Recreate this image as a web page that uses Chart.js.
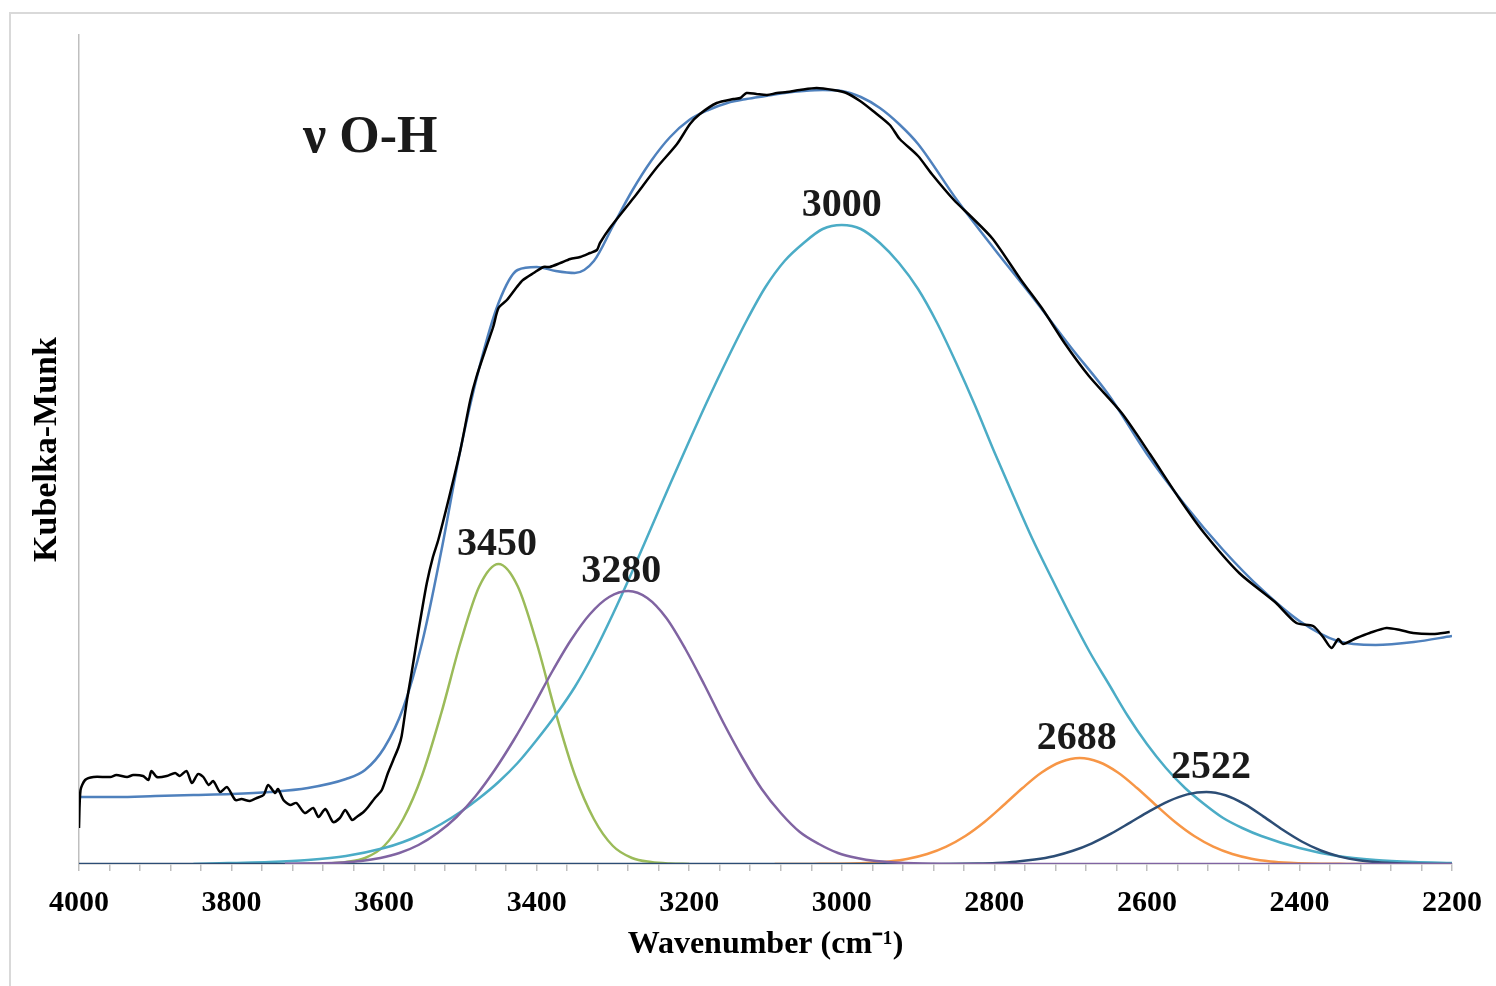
<!DOCTYPE html>
<html>
<head>
<meta charset="utf-8">
<script src="https://cdn.jsdelivr.net/npm/chart.js@4.4.1/dist/chart.umd.min.js"></script>
<style>
  body { margin: 0; background: #fff; overflow: hidden; }
  #frame { position: absolute; left: 9px; top: 12px; width: 1600px; height: 1100px;
           border-left: 2px solid #d9d9d9; border-top: 2px solid #d9d9d9; }
  #chart { position: absolute; left: 0; top: 0; }
</style>
</head>
<body>
<div id="frame"></div>
<canvas id="chart" width="1496" height="986"></canvas>
<script>
// wavenumber (cm-1) / Kubelka-Munk values

// measured spectrum (black)
const blackSpectrum = [
  [4000,0.036],[3998,0.074],[3992,0.084],[3981,0.087],[3959,0.087],[3951,0.089],[3937,0.087],[3929,0.089],
  [3916,0.088],[3909,0.084],[3905,0.093],[3898,0.087],[3885,0.088],[3874,0.091],[3868,0.088],[3859,0.093],
  [3852,0.081],[3844,0.090],[3837,0.087],[3830,0.079],[3824,0.083],[3815,0.072],[3806,0.077],[3795,0.064],
  [3787,0.065],[3776,0.063],[3767,0.066],[3758,0.069],[3752,0.079],[3743,0.071],[3739,0.075],[3732,0.064],
  [3723,0.059],[3715,0.061],[3704,0.051],[3693,0.056],[3686,0.047],[3677,0.055],[3667,0.042],[3658,0.046],
  [3651,0.054],[3642,0.044],[3636,0.047],[3627,0.052],[3621,0.057],[3612,0.066],[3603,0.074],[3595,0.091],
  [3588,0.104],[3581,0.117],[3577,0.128],[3570,0.164],[3564,0.191],[3557,0.224],[3551,0.251],[3544,0.281],
  [3536,0.307],[3529,0.324],[3515,0.366],[3500,0.414],[3487,0.464],[3479,0.487],[3466,0.517],[3457,0.537],
  [3450,0.556],[3439,0.564],[3426,0.577],[3418,0.584],[3404,0.591],[3391,0.597],[3383,0.597],[3369,0.601],
  [3356,0.605],[3343,0.607],[3330,0.611],[3321,0.614],[3317,0.621],[3304,0.636],[3273,0.666],[3243,0.696],
  [3216,0.720],[3199,0.740],[3186,0.750],[3164,0.761],[3142,0.765],[3133,0.766],[3125,0.771],[3112,0.770],
  [3098,0.769],[3085,0.771],[3072,0.772],[3055,0.774],[3033,0.776],[3011,0.774],[2994,0.771],[2976,0.763],
  [2959,0.753],[2937,0.739],[2924,0.725],[2900,0.708],[2882,0.690],[2853,0.664],[2830,0.647],[2802,0.625],
  [2765,0.584],[2736,0.554],[2708,0.521],[2676,0.488],[2633,0.451],[2596,0.410],[2558,0.366],[2526,0.332],
  [2479,0.291],[2432,0.262],[2404,0.241],[2382,0.238],[2369,0.227],[2358,0.216],[2349,0.225],[2343,0.220],
  [2325,0.226],[2308,0.231],[2286,0.236],[2268,0.234],[2251,0.231],[2225,0.230],[2203,0.232]
];

// fitted envelope (blue)
const fitWn = [4000,3950,3900,3850,3800,3750,3700,3650,3625,3600,3575,3550,3525,3500,3475,3450,3425,3400,3375,3350,3325,3300,
               3275,3250,3225,3200,3175,3150,3125,3100,3075,3050,3025,3000,2975,2950,2925,2900,2850,2800,2750,2700,2650,
               2600,2550,2500,2450,2400,2350,2300,2250,2200];
const fitKM = [0.067,0.067,0.068,0.069,0.070,0.072,0.076,0.085,0.094,0.116,0.156,0.222,0.313,0.414,0.497,0.561,0.594,0.597,0.593,0.591,0.603,0.638,
               0.673,0.703,0.727,0.744,0.754,0.761,0.765,0.768,0.771,0.773,0.774,0.773,0.767,0.756,0.740,0.720,0.665,0.615,0.567,0.517,0.469,
               0.410,0.359,0.314,0.275,0.243,0.223,0.219,0.222,0.228];

// band 3450 (green)
const b3450Wn = [3700,3675,3650,3625,3600,3575,3550,3525,3500,3475,3450,3425,3400,3375,3350,3325,3300,3275,3250,3225,3200];
const b3450KM = [0,0.0005,0.002,0.006,0.018,0.045,0.089,0.151,0.221,0.278,0.300,0.278,0.221,0.151,0.089,0.045,0.018,0.006,0.002,0.0005,0];

// band 3280 (purple)
const b3280Wn = [3730,3705,3680,3655,3630,3605,3580,3555,3530,3505,3480,3455,3430,3405,3380,3355,3330,3305,3280,
                 3255,3230,3205,3180,3155,3130,3105,3080,3055,3030,3005,2980,2955,2930,2905,2880,2855,2830,2200];
const b3280KM = [0.0002,0.0004,0.0007,0.0015,0.003,0.006,0.011,0.019,0.031,0.047,0.068,0.094,0.124,0.157,0.192,0.224,0.250,0.267,0.273,
                 0.266,0.246,0.215,0.179,0.141,0.106,0.075,0.051,0.032,0.020,0.011,0.006,0.003,0.0016,0.0007,0.0003,0.0001,0,0];

// band 3000 (aqua)
const b3000Wn = [3850,3800,3750,3700,3650,3600,3575,3550,3525,3500,3475,3450,3425,3400,3375,3350,3325,3300,3275,3250,3225,3200,
                 3175,3150,3125,3100,3075,3050,3025,3000,2975,2950,2925,2900,2875,2850,2825,2800,2775,2750,2725,2700,2675,2650,
                 2625,2600,2575,2550,2525,2500,2475,2450,2400,2350,2300,2250,2200];
const b3000KM = [0,0.001,0.002,0.004,0.008,0.016,0.022,0.030,0.040,0.052,0.066,0.082,0.101,0.124,0.149,0.177,0.211,0.250,0.292,0.336,0.380,0.423,
                 0.465,0.505,0.543,0.577,0.603,0.621,0.635,0.639,0.635,0.621,0.601,0.575,0.541,0.501,0.458,0.412,0.368,0.325,0.286,0.248,0.212,0.180,
                 0.148,0.120,0.096,0.076,0.060,0.046,0.036,0.028,0.016,0.008,0.004,0.002,0.001];

// band 2688 (orange)
const b2688Wn = [3088,3038,2988,2963,2938,2913,2888,2863,2838,2813,2788,2763,2738,2713,2688,
                 2663,2638,2613,2588,2563,2538,2513,2488,2463,2438,2413,2388,2338,2288];
const b2688KM = [0,0.0001,0.0005,0.0012,0.0026,0.0053,0.010,0.0174,0.028,0.042,0.0587,0.076,0.0915,0.102,0.106,
                 0.102,0.0915,0.076,0.0587,0.042,0.028,0.0174,0.010,0.0053,0.0026,0.0012,0.0005,0.0001,0];

// band 2522 (dark blue)
const b2522Wn = [4000,2872,2822,2797,2772,2747,2722,2697,2672,2647,2622,2597,2572,2547,2522,
                 2497,2472,2447,2422,2397,2372,2347,2322,2297,2272,2247,2222,2200];
const b2522KM = [0,0.0001,0.0005,0.0011,0.0023,0.0044,0.0078,0.0132,0.0207,0.0303,0.0414,0.0527,0.0627,0.0696,0.072,
                 0.0687,0.0598,0.0474,0.0342,0.0225,0.0135,0.0074,0.0037,0.0017,0.0007,0.0003,0.0001,0];

// peak annotations (text anchor in data units)
const peakText = ['3450', '3280', '3000', '2688', '2522'];
const peakWn = [3452, 3289, 3000, 2692, 2516];
const peakKM = [0.300, 0.273, 0.639, 0.106, 0.077];

const xTicks = [4000, 3800, 3600, 3400, 3200, 3000, 2800, 2600, 2400, 2200];

function pts(xs, ys) {
    return xs.map(function(x, i){ return {x: x, y: ys[i]}; });
}

function curve(label, xs, ys, color) {
    return {
        label: label,
        data: pts(xs, ys),
        borderColor: color,
        borderWidth: 2.5,
        pointRadius: 0,
        cubicInterpolationMode: 'monotone',
        fill: false
    };
}

const serif = '"Liberation Serif", "Times New Roman", serif';

const labelPlugin = {
    id: 'peakLabels',
    afterDatasetsDraw(chart) {
        const ctx = chart.ctx;
        const xs = chart.scales.x;
        const ys = chart.scales.y;
        ctx.save();
        ctx.fillStyle = '#1a1a1a';
        ctx.textAlign = 'center';
        ctx.textBaseline = 'alphabetic';
        ctx.font = 'bold 40px ' + serif;
        for (let i = 0; i < peakText.length; i++) {
            ctx.fillText(peakText[i], xs.getPixelForValue(peakWn[i]), ys.getPixelForValue(peakKM[i]) - 9);
        }
        ctx.textAlign = 'left';
        ctx.font = 'bold 52px ' + serif;
        ctx.fillText('\u03bd O-H', 303, 152);
        ctx.restore();
    }
};

const black = {
    label: 'spectrum',
    data: blackSpectrum.map(function(p){ return {x: p[0], y: p[1]}; }),
    borderColor: '#000000',
    borderWidth: 2.5,
    pointRadius: 0,
    tension: 0.25,
    fill: false
};

new Chart(document.getElementById('chart').getContext('2d'), {
    type: 'line',
    data: {
        datasets: [
            black,
            curve('fit', fitWn, fitKM, '#4f81bd'),
            curve('3280', b3280Wn, b3280KM, '#8064a2'),
            curve('2522', b2522Wn, b2522KM, '#2c4d75'),
            curve('2688', b2688Wn, b2688KM, '#f79646'),
            curve('3000', b3000Wn, b3000KM, '#4bacc6'),
            curve('3450', b3450Wn, b3450KM, '#9bbb59')
        ]
    },
    options: {
        responsive: false,
        devicePixelRatio: 1,
        animation: false,
        layout: { padding: { top: 35, right: 44, left: 0, bottom: 0 } },
        plugins: {
            legend: { display: false },
            tooltip: { enabled: false }
        },
        scales: {
            x: {
                type: 'linear',
                reverse: true,
                min: 2200,
                max: 4000,
                afterFit: function(scale){ scale.height = 122; },
                ticks: {
                    stepSize: 40,
                    autoSkip: false,
                    maxRotation: 0,
                    padding: 14,
                    color: '#000',
                    font: { family: serif, size: 30, weight: 'bold' },
                    callback: function(v){
                        const r = Math.round(v);
                        return xTicks.indexOf(r) >= 0 ? String(r) : '';
                    }
                },
                grid: { drawOnChartArea: false, drawTicks: true, tickLength: 7, color: '#bfbfbf', lineWidth: 1.5 },
                border: { display: true, color: '#bfbfbf', width: 1.5 },
                title: {
                    display: true,
                    text: 'Wavenumber (cm\u207b\u00b9)',
                    color: '#000',
                    font: { family: serif, size: 32, weight: 'bold' },
                    padding: { top: 0, bottom: 22 }
                }
            },
            y: {
                min: 0,
                max: 0.829,
                afterFit: function(scale){ scale.width = 79; },
                ticks: { display: false },
                grid: { display: false, drawTicks: false },
                border: { display: true, color: '#bfbfbf', width: 1.5 },
                title: {
                    display: true,
                    text: 'Kubelka-Munk',
                    color: '#000',
                    font: { family: serif, size: 34, weight: 'bold' },
                    padding: { top: 27, bottom: 0 }
                }
            }
        }
    },
    plugins: [labelPlugin]
});
</script>
</body>
</html>
